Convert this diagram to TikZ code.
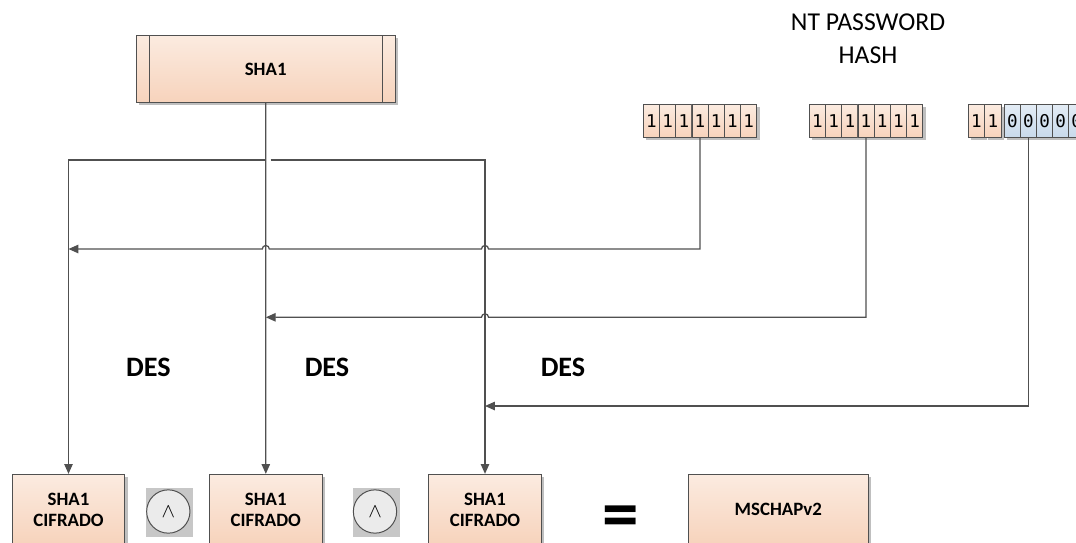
\documentclass[tikz,border=0pt]{standalone}
\usepackage{fontspec}
\setmainfont{Carlito}
\newfontfamily\bitfont{DejaVu Sans Mono}
\usetikzlibrary{arrows.meta, shadows, backgrounds}
\definecolor{linec}{HTML}{505050}
\definecolor{peachtop}{HTML}{FBEBE0}
\definecolor{peachbot}{HTML}{F7D3BC}
\definecolor{bluetop}{HTML}{E3ECF5}
\definecolor{bluebot}{HTML}{C9DAEB}
\tikzset{
  shad/.style={drop shadow={shadow xshift=2pt, shadow yshift=-2pt, fill=black!25, opacity=1}},
  box/.style={draw=linec, line width=0.7pt, top color=peachtop, bottom color=peachbot, shad,
    align=center, inner sep=0pt, minimum width=80pt, minimum height=50pt,
    font=\fontsize{13.4}{15}\selectfont\bfseries},
  procbox/.style={box, minimum width=184pt, minimum height=48pt, path picture={
    \draw[linec, line width=0.6pt]
      ([xshift=9.2pt]path picture bounding box.north west) -- ([xshift=9.2pt]path picture bounding box.south west);
    \draw[linec, line width=0.6pt]
      ([xshift=-9.2pt]path picture bounding box.north east) -- ([xshift=-9.2pt]path picture bounding box.south east);
  }},
  bit/.style={draw=linec, line width=0.6pt, top color=peachtop, bottom color=peachbot, shad,
    inner sep=0pt, minimum width=11.5pt, minimum height=23.4pt,
    font=\bitfont\fontsize{12.5}{12.5}\selectfont},
  bitz/.style={bit, top color=bluetop, bottom color=bluebot},
  andop/.style={circle, draw=linec, line width=0.7pt, fill=black!8, minimum size=30.8pt,
    inner sep=0pt, font=\fontsize{14}{14}\selectfont},
  lbl/.style={font=\fontsize{18.3}{23}\selectfont, align=center},
  deslbl/.style={font=\fontsize{20}{22}\selectfont\bfseries},
  arr/.style={draw=linec, line width=0.9pt, -{Triangle[length=7pt, width=6pt]}},
}

\begin{document}
\begin{tikzpicture}[x=0.025cm, y=-0.025cm]
\path[use as bounding box] (0,0) rectangle (1076,542);
\clip (0,0) rectangle (1076,542);

% ── SHA1 y hash ─────────────────────────────────────────────
\node[procbox] (sha) at (265.7,68.9) {SHA1};
\node[lbl] (nthash) at (868,38.8) {NT PASSWORD\\HASH};

\foreach \i in {1,...,7} {
  \node[bit] (a\i) at ({643.3+(\i-0.5)*16.2},120.7) {1};
  \node[bit] (b\i) at ({809.3+(\i-0.5)*16.2},120.7) {1};
}
\foreach \i in {1,2}
  \node[bit] (c\i) at ({968.3+(\i-0.5)*16.35},120.7) {1};
\foreach \i in {1,...,5}
  \node[bitz] (d\i) at ({1004.3+(\i-0.5)*16.1},120.7) {0};

% ── Resultado ───────────────────────────────────────────────
\node[box] (cif1) at (68.5,509.5) {SHA1\\CIFRADO};
\node[box] (cif2) at (265.8,509.5) {SHA1\\CIFRADO};
\node[box] (cif3) at (485,509.5) {SHA1\\CIFRADO};
\node[box, minimum width=127.6pt] (msc) at (778.3,509.5) {MSCHAPv2};

\node[andop] (and1) at (168.3,511.5) {$\wedge$};
\node[andop] (and2) at (375,511.5) {$\wedge$};
\begin{scope}[on background layer]
  \foreach \n in {and1, and2}
    \fill[black!22] ([shift={(-15.8pt,-17.9pt)}]\n.center) rectangle ([shift={(17.7pt,16.7pt)}]\n.center);
\end{scope}
\node[font=\fontsize{52}{52}\selectfont\bfseries, inner sep=0pt] (eq) at (620.5,522) {=};

\node[deslbl] (des1) at (148.3,367) {DES};
\node[deslbl] (des2) at (327,367) {DES};
\node[deslbl] (des3) at (563,367) {DES};

% ── Conexiones ──────────────────────────────────────────────
\coordinate (rowtop) at (0,160);
\coordinate (row1) at (0,249);
\coordinate (row2) at (0,317.3);
\coordinate (row3) at (0,406);
\coordinate (fork) at (sha.south |- rowtop);
\coordinate (h31) at (cif3.north |- row1);
\coordinate (h21) at (cif2.north |- row1);
\coordinate (h32) at (cif3.north |- row2);

\draw[arr] (sha.south) -- (cif2.north);
\draw[arr] (fork) -| (cif1.north);
\draw[arr] ([xshift=3.5pt]fork) -| (cif3.north);

\draw[arr] (a4.south) |- ([xshift=2.5pt]h31) arc[start angle=0, end angle=180, radius=2.5pt]
  -- ([xshift=2.5pt]h21) arc[start angle=0, end angle=180, radius=2.5pt] -- (cif1.north |- row1);
\draw[arr] (b4.south) |- ([xshift=2.5pt]h32) arc[start angle=0, end angle=180, radius=2.5pt]
  -- (cif2.north |- row2);
\draw[arr] (d2.south) |- (cif3.north |- row3);

\end{tikzpicture}
\end{document}
